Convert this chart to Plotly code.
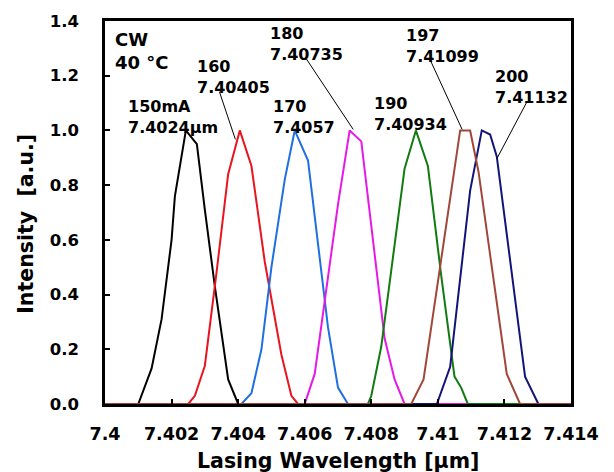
import plotly.graph_objects as go

# ---- data ----
X_RANGE = [7.400, 7.414]

wl_150 = [7.4000, 7.4010, 7.4014, 7.4017, 7.4020, 7.4021, 7.40243, 7.40276, 7.4030, 7.4033, 7.4037, 7.4040, 7.4140]
in_150 = [0, 0, 0.13, 0.31, 0.60, 0.76, 1.0, 0.95, 0.71, 0.43, 0.09, 0, 0]

wl_160 = [7.4000, 7.4025, 7.4027, 7.4030, 7.40335, 7.4037, 7.40405, 7.4044, 7.4048, 7.4053, 7.4056, 7.4058, 7.4140]
in_160 = [0, 0, 0.03, 0.14, 0.48, 0.84, 1.0, 0.87, 0.52, 0.18, 0.03, 0, 0]

wl_170 = [7.4000, 7.4041, 7.4044, 7.4047, 7.4050, 7.4054, 7.4057, 7.4061, 7.4067, 7.4070, 7.4073, 7.4140]
in_170 = [0, 0, 0.04, 0.20, 0.50, 0.82, 1.0, 0.89, 0.28, 0.06, 0, 0]

wl_180 = [7.4000, 7.4060, 7.4063, 7.4070, 7.40735, 7.4077, 7.4084, 7.4087, 7.4090, 7.4140]
in_180 = [0, 0, 0.11, 0.73, 1.0, 0.96, 0.24, 0.09, 0, 0]

wl_190 = [7.4000, 7.4079, 7.4080, 7.4083, 7.4090, 7.40934, 7.4097, 7.4101, 7.4105, 7.4107, 7.4109, 7.4140]
in_190 = [0, 0, 0.03, 0.21, 0.86, 1.0, 0.87, 0.47, 0.10, 0.06, 0, 0]

wl_197 = [7.4000, 7.4092, 7.40957, 7.41047, 7.41067, 7.41097, 7.41122, 7.41207, 7.41247, 7.4140]
in_197 = [0, 0, 0.09, 0.85, 1.0, 1.0, 0.85, 0.11, 0, 0]

wl_200 = [7.4000, 7.40997, 7.41037, 7.41097, 7.41132, 7.41157, 7.41177, 7.41262, 7.41302, 7.4140]
in_200 = [0, 0, 0.136, 0.78, 1.0, 0.985, 0.905, 0.10, 0, 0]

currents = ["150 mA", "160 mA", "170 mA", "180 mA", "190 mA", "197 mA", "200 mA"]
x_tickvals = [7.400, 7.402, 7.404, 7.406, 7.408, 7.410, 7.412, 7.414]
x_ticktext = ["7.4", "7.402", "7.404", "7.406", "7.408", "7.41", "7.412", "7.414"]

label_150 = "150mA<br>7.4024µm"
label_160 = "160<br>7.40405"
label_170 = "170<br>7.4057"
label_180 = "180<br>7.40735"
label_190 = "190<br>7.40934"
label_197 = "197<br>7.41099"
label_200 = "200<br>7.41132"

# ---- figure ----
FONT = "DejaVu Sans"
series = [
    (wl_150, in_150, "#000000", currents[0]),
    (wl_160, in_160, "#e8141e", currents[1]),
    (wl_170, in_170, "#1f6fe0", currents[2]),
    (wl_180, in_180, "#e619e6", currents[3]),
    (wl_190, in_190, "#117a11", currents[4]),
    (wl_200, in_200, "#141478", currents[6]),
    (wl_197, in_197, "#a0473a", currents[5]),
]

fig = go.Figure()
for xs, ys, col, name in series:
    fig.add_trace(go.Scatter(x=xs, y=ys, mode="lines", name=name,
                             line=dict(color=col, width=2), showlegend=False))

axis_common = dict(showline=True, mirror=True, linecolor="black", linewidth=2.5,
                   showgrid=False, zeroline=False, ticks="inside", tickcolor="black",
                   tickwidth=2, ticklen=5)

fig.update_xaxes(range=X_RANGE, tickvals=x_tickvals, ticktext=x_ticktext,
                 ticklabelstandoff=12,
                 tickfont=dict(family=FONT, size=17.5, color="black", weight="bold"),
                 **axis_common)
fig.update_yaxes(range=[0, 1.4], dtick=0.2, tick0=0, tickformat=".1f",
                 ticklabelstandoff=20,
                 tickfont=dict(family=FONT, size=16.5, color="black", weight="bold"),
                 **axis_common)

ann_font = dict(family=FONT, size=16, color="black", weight="bold")

def px2x(px):
    return 7.400 + (px - 104.5) / (466.5 / 0.014)

def py2y(py):
    return (404 - py) / 275.0

labels = [
    (label_150, 126, 93),
    (label_160, 195, 53),
    (label_170, 271, 93),
    (label_180, 268, 20),
    (label_190, 372, 90),
    (label_197, 404, 22),
    (label_200, 493, 63),
]
for txt, lx, ty in labels:
    fig.add_annotation(x=px2x(lx), y=py2y(ty), xref="x", yref="y", text=txt,
                       showarrow=False, xanchor="left", yanchor="top", align="left",
                       font=ann_font)

fig.add_annotation(x=px2x(113), y=py2y(25), xref="x", yref="y", text="CW<br>40 °C",
                   showarrow=False, xanchor="left", yanchor="top", align="left",
                   font=dict(family=FONT, size=18, color="black", weight="bold"))

leaders = [
    ((219, 90), (235, 138)),
    ((306, 57), (353, 128)),
    ((430, 58), (462, 128)),
    ((527, 100), (497, 157)),
]
for (x0, y0), (x1, y1) in leaders:
    fig.add_shape(type="line", xref="x", yref="y",
                  x0=px2x(x0), y0=py2y(y0), x1=px2x(x1), y1=py2y(y1),
                  line=dict(color="black", width=1))

fig.add_annotation(x=0.5, y=-0.148, xref="paper", yref="paper",
                   text="Lasing Wavelength [µm]", showarrow=False,
                   xanchor="center", yanchor="middle",
                   font=dict(family=FONT, size=20.5, color="black", weight="bold"))
fig.add_annotation(x=-0.170, y=0.470, xref="paper", yref="paper",
                   text="Intensity  [a.u.]", showarrow=False, textangle=-90,
                   xanchor="center", yanchor="middle",
                   font=dict(family=FONT, size=20.5, color="black", weight="bold"))

fig.update_layout(width=614, height=472,
                  margin=dict(l=104.5, r=43, t=19, b=68, pad=0),
                  paper_bgcolor="white", plot_bgcolor="white",
                  font=dict(family=FONT, color="black"))

fig.write_html("out.html", config={"displayModeBar": False},
               post_script="document.body.style.margin='0';document.body.style.overflow='hidden';")
